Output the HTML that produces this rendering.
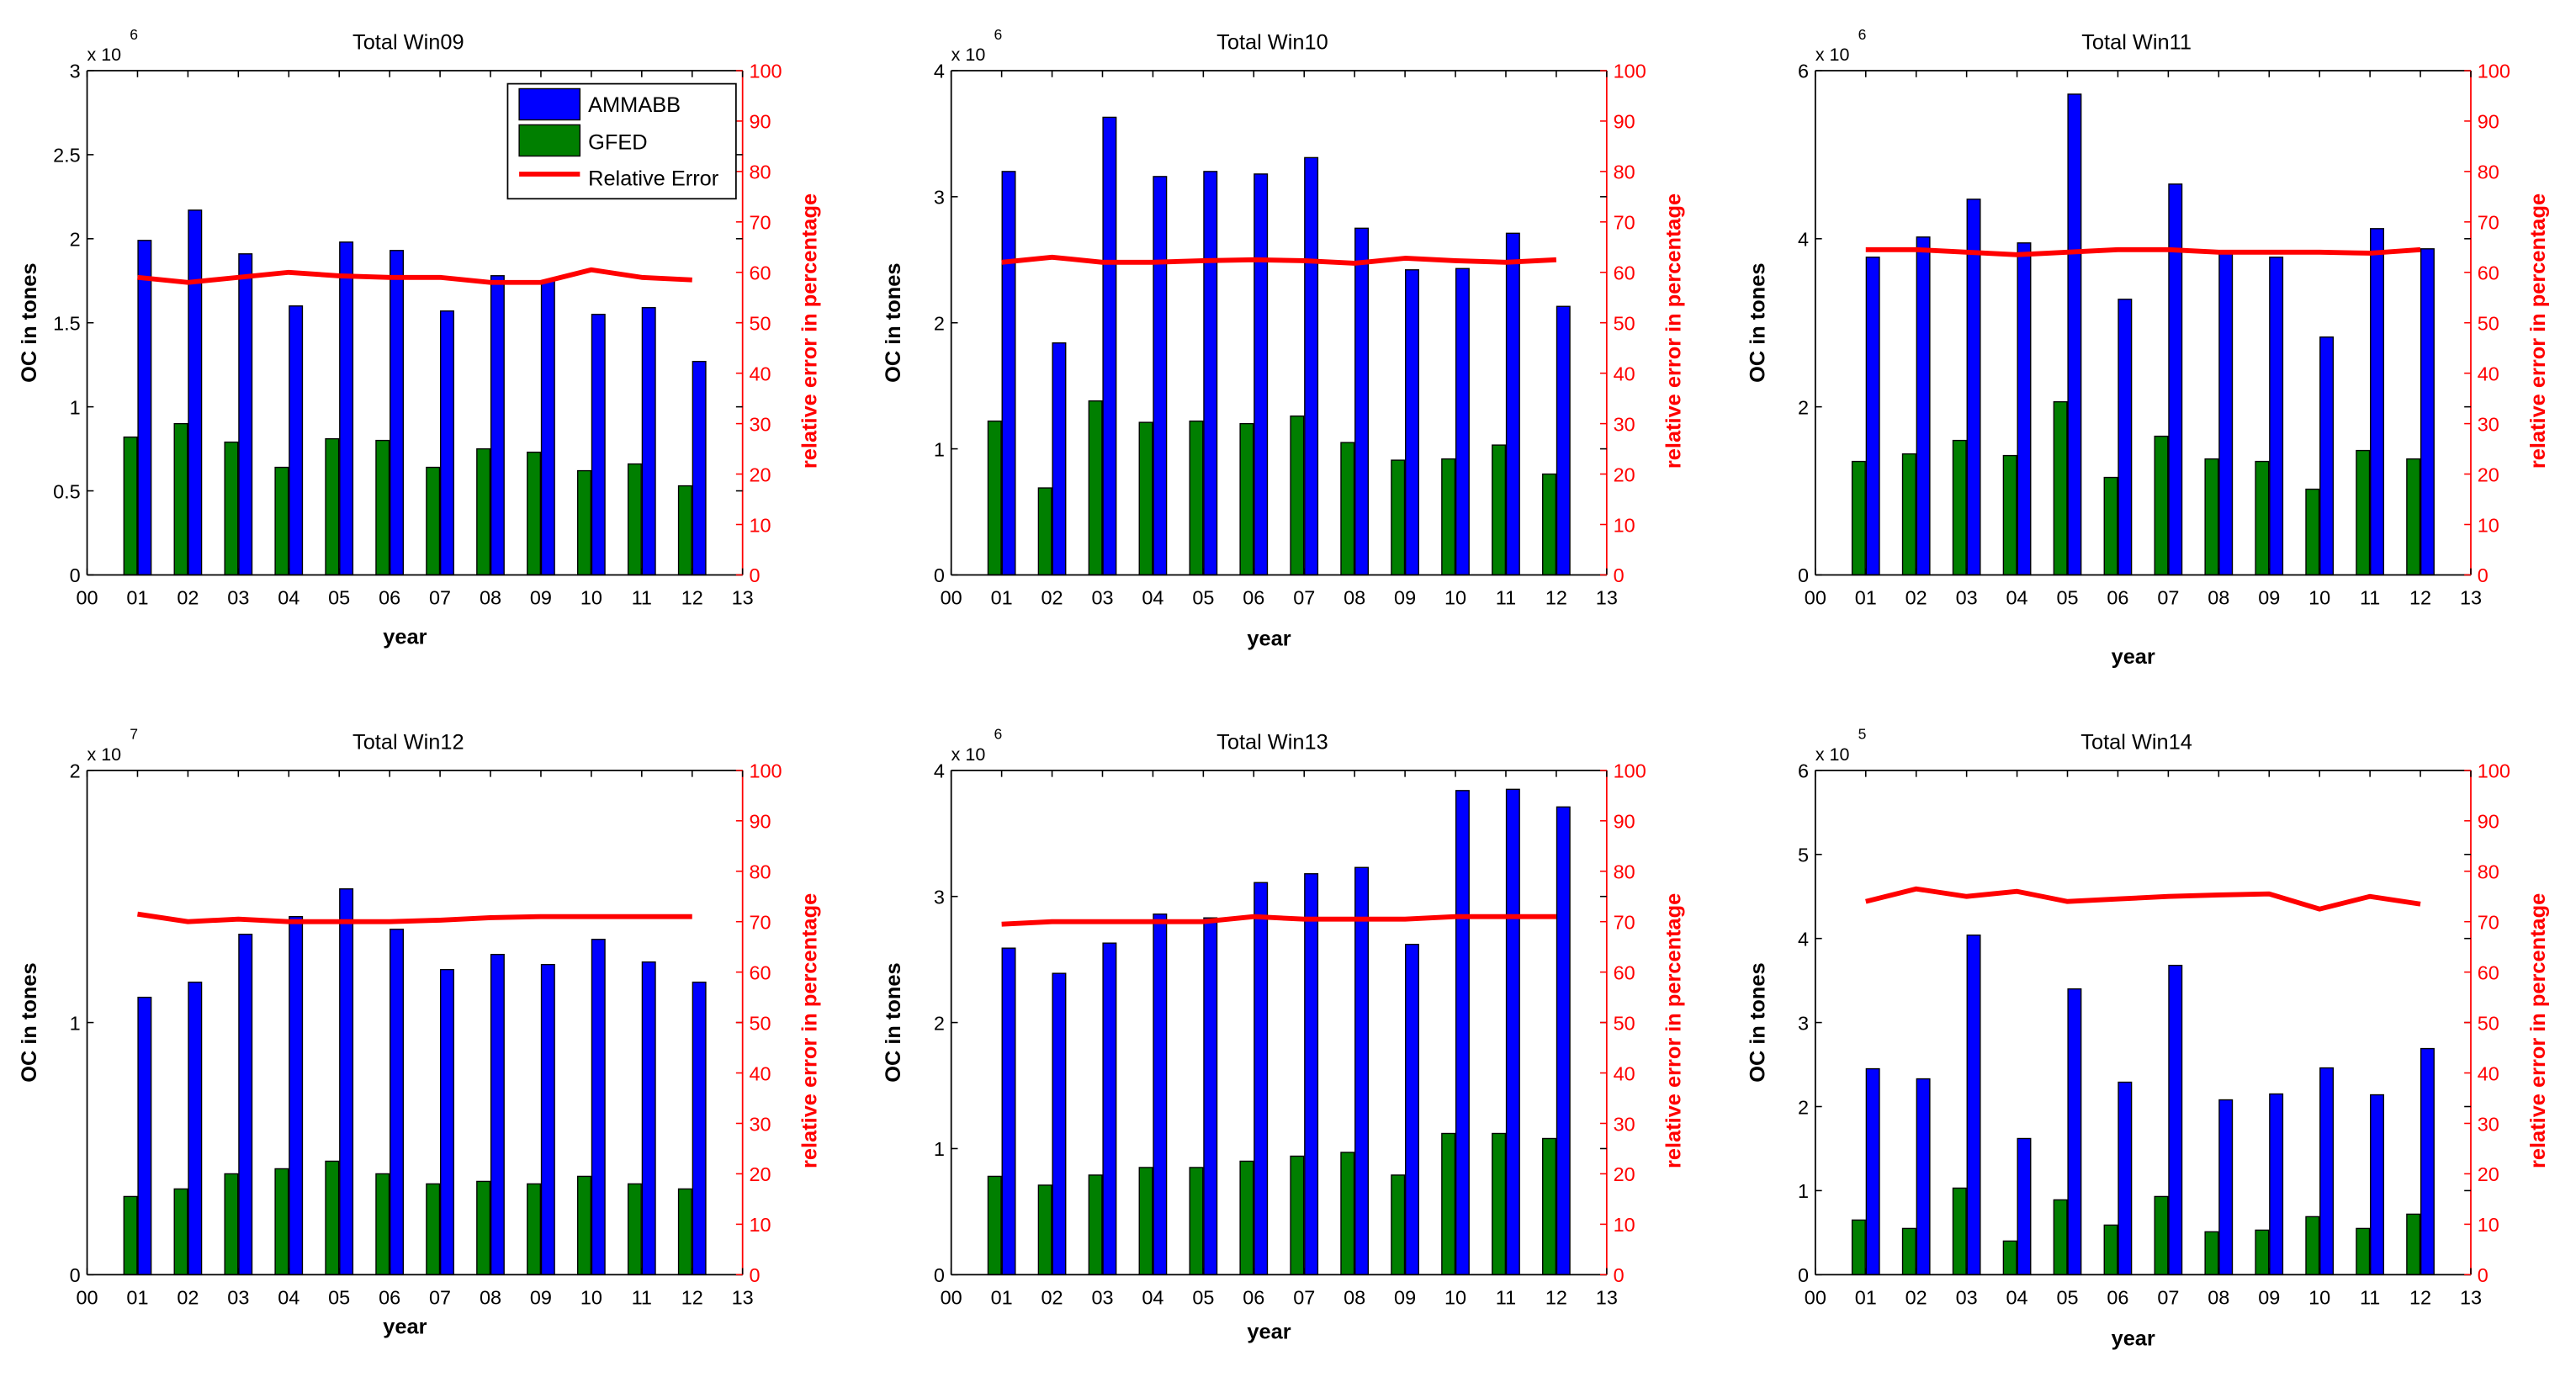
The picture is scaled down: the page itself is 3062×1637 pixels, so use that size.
<!DOCTYPE html>
<html><head><meta charset="utf-8"><style>
html,body{margin:0;padding:0;background:#fff;}
svg{display:block;font-family:"Liberation Sans",sans-serif;}
</style></head><body>
<svg id="fig" width="3062" height="1637" viewBox="0 0 1568 838.3" xmlns="http://www.w3.org/2000/svg"></svg>
<script>
const years = ["00","01","02","03","04","05","06","07","08","09","10","11","12","13"];
const errTicks = [0,10,20,30,40,50,60,70,80,90,100];
const titles = ["Total Win09","Total Win10","Total Win11","Total Win12","Total Win13","Total Win14"];
const exponents = ["6","6","6","7","6","5"];
const yMax = [3,4,6,2,4,6];
const yTickLabels = [["0","0.5","1","1.5","2","2.5","3"],["0","1","2","3","4"],["0","2","4","6"],["0","1","2"],["0","1","2","3","4"],["0","1","2","3","4","5","6"]];
const ammabb09 = [1.99,2.17,1.91,1.60,1.98,1.93,1.57,1.78,1.75,1.55,1.59,1.27];
const gfed09 = [0.82,0.90,0.79,0.64,0.81,0.80,0.64,0.75,0.73,0.62,0.66,0.53];
const err09 = [59,58,59,60,59.3,59,59,58,58,60.5,59,58.5];
const ammabb10 = [3.2,1.84,3.63,3.16,3.2,3.18,3.31,2.75,2.42,2.43,2.71,2.13];
const gfed10 = [1.22,0.69,1.38,1.21,1.22,1.2,1.26,1.05,0.91,0.92,1.03,0.80];
const err10 = [62,63,62,62,62.3,62.5,62.3,61.8,62.8,62.3,62,62.5];
const ammabb11 = [3.78,4.02,4.47,3.95,5.72,3.28,4.65,3.85,3.78,2.83,4.12,3.88];
const gfed11 = [1.35,1.44,1.6,1.42,2.06,1.16,1.65,1.38,1.35,1.02,1.48,1.38];
const err11 = [64.5,64.5,64,63.5,64,64.5,64.5,64,64,64,63.8,64.5];
const ammabb12 = [1.10,1.16,1.35,1.42,1.53,1.37,1.21,1.27,1.23,1.33,1.24,1.16];
const gfed12 = [0.31,0.34,0.40,0.42,0.45,0.40,0.36,0.37,0.36,0.39,0.36,0.34];
const err12 = [71.5,70,70.5,70,70,70,70.3,70.8,71,71,71,71];
const ammabb13 = [2.59,2.39,2.63,2.86,2.83,3.11,3.18,3.23,2.62,3.84,3.85,3.71];
const gfed13 = [0.78,0.71,0.79,0.85,0.85,0.90,0.94,0.97,0.79,1.12,1.12,1.08];
const err13 = [69.5,70,70,70,70,71,70.5,70.5,70.5,71,71,71];
const ammabb14 = [2.45,2.33,4.04,1.62,3.40,2.29,3.68,2.08,2.15,2.46,2.14,2.69];
const gfed14 = [0.65,0.55,1.03,0.40,0.89,0.59,0.93,0.51,0.53,0.69,0.55,0.72];
const err14 = [74,76.5,75,76,74,74.5,75,75.3,75.5,72.5,75,73.5];
const ammabbAll = [ammabb09,ammabb10,ammabb11,ammabb12,ammabb13,ammabb14];
const gfedAll = [gfed09,gfed10,gfed11,gfed12,gfed13,gfed14];
const errAll = [err09,err10,err11,err12,err13,err14];

const NS="http://www.w3.org/2000/svg";
const svg=document.getElementById('fig');
function mk(tag,attrs,parent,text){const e=document.createElementNS(NS,tag);for(const k in attrs)e.setAttribute(k,attrs[k]);if(text!==undefined)e.textContent=text;(parent||svg).appendChild(e);return e;}

const lefts=[53,579,1105];
const tops=[43,469];
const W=399, H=307;
const yearOff=[38,39,50,32,35,39];

for(let p=0;p<6;p++){
  const L=lefts[p%3], T=tops[Math.floor(p/3)], R=L+W, B=T+H;
  const g=mk('g',{});
  
  
  const xs=v=>L+v/13*W;
  const ys=v=>B-v/yMax[p]*H;
  const ye=v=>B-v/100*H;
  // bars
  for(let i=0;i<12;i++){
    const x=xs(i+1);
    const gb=mk('rect',{x:xs(i+1-0.27),y:ys(gfedAll[p][i]),width:xs(0.26)-L,height:B-ys(gfedAll[p][i]),fill:'#007f00',stroke:'#000','stroke-width':0.7},g);
    
    
    const bb=mk('rect',{x:xs(i+1+0.01),y:ys(ammabbAll[p][i]),width:xs(0.26)-L,height:B-ys(ammabbAll[p][i]),fill:'#0000ff',stroke:'#000','stroke-width':0.7},g);
    
    
  }
  // axes frame
  mk('line',{x1:L,y1:T,x2:R,y2:T,stroke:'#000','stroke-width':0.9},g);
  mk('line',{x1:L,y1:B,x2:R,y2:B,stroke:'#000','stroke-width':0.9},g);
  mk('line',{x1:L,y1:T,x2:L,y2:B,stroke:'#000','stroke-width':0.9},g);
  mk('line',{x1:R,y1:T,x2:R,y2:B,stroke:'#ff0000','stroke-width':0.9},g);
  // x ticks
  years.forEach((lab,i)=>{
    const x=xs(i);
    mk('line',{x1:x,y1:T,x2:x,y2:T+4,stroke:'#000','stroke-width':0.8},g);
    mk('line',{x1:x,y1:B,x2:x,y2:B-4,stroke:'#000','stroke-width':0.8},g);
    const t=mk('text',{x:x,y:B+18,'font-size':12,'text-anchor':'middle',fill:'#000'},g,lab);
    
    
  });
  // left ticks
  const tl=yTickLabels[p];
  tl.forEach((lab,i)=>{
    const v=yMax[p]*i/(tl.length-1);
    const y=ys(v);
    mk('line',{x1:L,y1:y,x2:L+4,y2:y,stroke:'#000','stroke-width':0.8},g);
    mk('line',{x1:R,y1:y,x2:R-4,y2:y,stroke:'#000','stroke-width':0.8},g);
    const t=mk('text',{x:L-4,y:y+4.5,'font-size':12,'text-anchor':'end',fill:'#000'},g,lab);
    
    
  });
  // right ticks
  errTicks.forEach(v=>{
    const y=ye(v);
    mk('line',{x1:R,y1:y,x2:R-4,y2:y,stroke:'#ff0000','stroke-width':0.8},g);
    const t=mk('text',{x:R+4,y:y+4.5,'font-size':12,'text-anchor':'start',fill:'#ff0000'},g,String(v));
    
    
  });
  // error line
  const pts=errAll[p].map((v,i)=>xs(i+1)+','+ye(v)).join(' ');
  const pl=mk('polyline',{points:pts,fill:'none',stroke:'#ff0000','stroke-width':3,'stroke-linejoin':'round'},g);
  
  
  // labels
  const tt=mk('text',{x:L+W/2-4,y:T-13,'font-size':13,'text-anchor':'middle',fill:'#000'},g,titles[p]);
  
  
  const mul=mk('text',{x:L,y:T-6,'font-size':11,fill:'#000'},g,'x 10');
  
  
  const ex=mk('text',{x:L+26,y:T-19,'font-size':9,fill:'#000'},g,exponents[p]);
  
  
  const yl=mk('text',{x:0,y:0,'font-size':13,'font-weight':'bold','text-anchor':'middle',fill:'#000',transform:`translate(${L-31},${T+H/2}) rotate(-90)`},g,'OC in tones');
  
  
  const rl=mk('text',{x:0,y:0,'font-size':13,'font-weight':'bold','text-anchor':'middle',fill:'#ff0000',transform:`translate(${R+45},${T+H/2+5}) rotate(-90)`},g,'relative error in percentage');
  
  
  const xl=mk('text',{x:L+W/2-6,y:B+yearOff[p]+4,'font-size':13,'font-weight':'bold','text-anchor':'middle',fill:'#000'},g,'year');
  
  
  // legend
  if(p===0){
    const lg=mk('g',{},g);
    
    
    mk('rect',{x:309,y:51,width:139,height:70,fill:'#fff',stroke:'#000','stroke-width':0.9},lg);
    mk('rect',{x:316,y:54,width:37,height:19,fill:'#0000ff',stroke:'#000','stroke-width':0.7},lg);
    mk('text',{x:358,y:68,'font-size':13,fill:'#000'},lg,'AMMABB');
    mk('rect',{x:316,y:76,width:37,height:19,fill:'#007f00',stroke:'#000','stroke-width':0.7},lg);
    mk('text',{x:358,y:91,'font-size':13,fill:'#000'},lg,'GFED');
    mk('line',{x1:316,y1:106,x2:353,y2:106,stroke:'#ff0000','stroke-width':3},lg);
    mk('text',{x:358,y:113,'font-size':13,fill:'#000'},lg,'Relative Error');
  }
}
</script>
</body></html>
